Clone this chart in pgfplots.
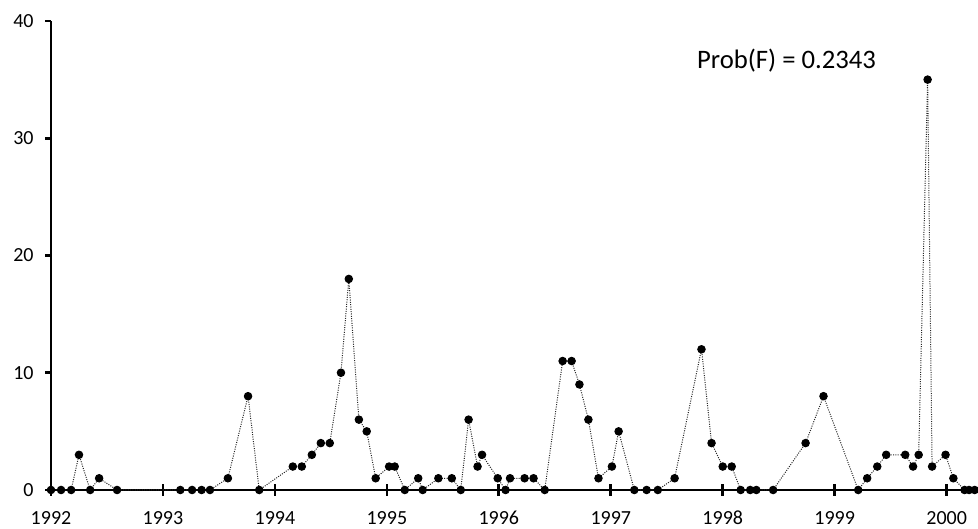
\documentclass[border=0pt]{standalone}
\usepackage{pgfplots}
\pgfplotsset{compat=1.18}
\usepackage{fontspec}
\setmainfont{Carlito}

% x = years since Jan 1992
\pgfplotstableread{
yr val
0.00 0
0.09 0
0.18 0
0.25 3
0.35 0
0.43 1
0.59 0
1.155 0
1.26 0
1.345 0
1.42 0
1.58 1
1.76 8
1.86 0
2.16 2
2.24 2
2.33 3
2.41 4
2.49 4
2.59 10
2.66 18
2.75 6
2.82 5
2.90 1
3.02 2
3.07 2
3.16 0
3.28 1
3.32 0
3.46 1
3.58 1
3.66 0
3.73 6
3.81 2
3.85 3
3.99 1
4.06 0
4.10 1
4.23 1
4.31 1
4.41 0
4.57 11
4.65 11
4.72 9
4.80 6
4.89 1
5.01 2
5.07 5
5.21 0
5.32 0
5.42 0
5.57 1
5.81 12
5.90 4
6.00 2
6.08 2
6.16 0
6.245 0
6.30 0
6.45 0
6.74 4
6.90 8
7.21 0
7.29 1
7.38 2
7.46 3
7.63 3
7.70 2
7.75 3
7.83 35
7.87 2
7.99 3
8.06 1
8.16 0
8.20 0
8.25 0
}\counts

\begin{document}
\begin{tikzpicture}
\begin{axis}[
  scale only axis,
  width=695.25pt, height=351.75pt,
  xmin=0, xmax=8.28,
  ymin=0, ymax=40,
  axis x line=bottom, axis y line=left,
  axis line style={-, line width=2pt},
  xtick={0,1,...,8},
  xticklabels={1992,1993,1994,1995,1996,1997,1998,1999,2000},
  ytick={0,10,20,30,40},
  tick align=center,
  major tick length=9pt,
  x tick style={line width=2pt, black},
  y tick style={draw=none},
  /pgf/number format/assume math mode=true,
  tick label style={font=\fontsize{15}{18}\selectfont},
  xticklabel style={anchor=north, text height=9.5pt, text depth=0pt, yshift=-8pt},
  yticklabel style={xshift=-5pt},
  clip=false,
]
\pgfplotsinvokeforeach{0,10,20,30,40}{
  \draw[line width=2pt] (axis cs:0,#1) -- ++(-4.5pt,0);
}
\addplot[black!85, densely dotted, line width=0.75pt,
  mark=*, mark size=2.8pt, mark options={solid, fill=black, draw=black}]
  table[x=yr, y=val] {\counts};
\node[anchor=center, font=\fontsize{20}{24}\selectfont] at (axis cs:6.57,36.6) {Prob(F) = 0.2343};
\end{axis}
\pgfresetboundingbox
\path ([shift={(-38.25pt,-29.25pt)}]current axis.south west) rectangle ([shift={(0pt,15.75pt)}]current axis.north east);
\end{tikzpicture}
\end{document}
